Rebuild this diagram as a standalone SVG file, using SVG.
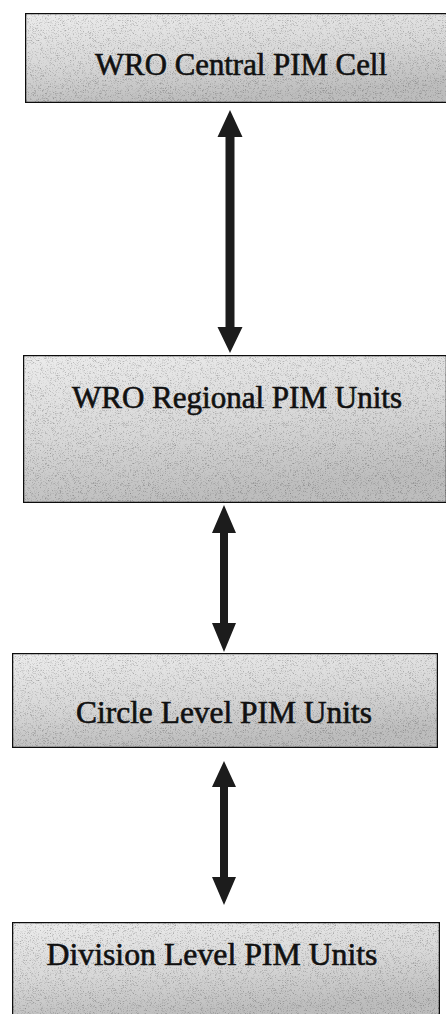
<svg xmlns="http://www.w3.org/2000/svg" width="446" height="1014" viewBox="0 0 446 1014">
  <defs>
    <linearGradient id="boxfill" x1="0" y1="0" x2="0.3" y2="1">
      <stop offset="0" stop-color="#ececec"/>
      <stop offset="0.55" stop-color="#d8d8d8"/>
      <stop offset="1" stop-color="#bdbdbd"/>
    </linearGradient>
    <filter id="grain" x="0" y="0" width="1" height="1">
      <feTurbulence type="fractalNoise" baseFrequency="1.6" numOctaves="1" seed="3" result="n"/>
      <feColorMatrix in="n" type="matrix" values="0 0 0 0 0  0 0 0 0 0  0 0 0 0 0  0 0 0 -3 1.45" result="dots"/>
      <feComposite in="dots" in2="SourceGraphic" operator="in" result="d2"/>
      <feComponentTransfer in="d2" result="d3"><feFuncA type="linear" slope="0.6"/></feComponentTransfer>
      <feMerge><feMergeNode in="SourceGraphic"/><feMergeNode in="d3"/></feMerge>
    </filter>
  </defs>
  <style>
    .box { fill: url(#boxfill); stroke: #111; stroke-width: 2.5; }
    .label { font-family: "Liberation Serif", "Times New Roman", serif; font-size: 31px; fill: #111; stroke: #111; stroke-width: 0.6; text-anchor: middle; }
    .arrow { fill: #1c1c1c; }
  </style>

  <g id="node-central">
    <rect class="box" x="25" y="13" width="424" height="90" filter="url(#grain)"/>
    <text class="label" x="241" y="75" textLength="292" lengthAdjust="spacingAndGlyphs">WRO Central PIM Cell</text>
  </g>

  <g id="node-regional">
    <rect class="box" x="23" y="355" width="424" height="148" filter="url(#grain)"/>
    <text class="label" x="237" y="408" textLength="330" lengthAdjust="spacingAndGlyphs">WRO Regional PIM Units</text>
  </g>

  <g id="node-circle">
    <rect class="box" x="12" y="653" width="426" height="95" filter="url(#grain)"/>
    <text class="label" x="224" y="723" textLength="296" lengthAdjust="spacingAndGlyphs">Circle Level PIM Units</text>
  </g>

  <g id="node-division">
    <rect class="box" x="12" y="922" width="428" height="96" filter="url(#grain)"/>
    <text class="label" x="212" y="965" textLength="331" lengthAdjust="spacingAndGlyphs">Division Level PIM Units</text>
  </g>

  <g id="connectors">
    <path class="arrow" d="M230,110 L242.5,137 L234.5,137 L234.5,327 L242.5,327 L230,353 L217.5,327 L225.5,327 L225.5,137 L217.5,137 Z"/>
    <path class="arrow" d="M224,505 L236,533 L228,533 L228,623 L236,623 L224,652 L212,623 L220,623 L220,533 L212,533 Z"/>
    <path class="arrow" d="M224,761 L236,787 L228,787 L228,877 L236,877 L224,905 L212,877 L220,877 L220,787 L212,787 Z"/>
  </g>
</svg>
